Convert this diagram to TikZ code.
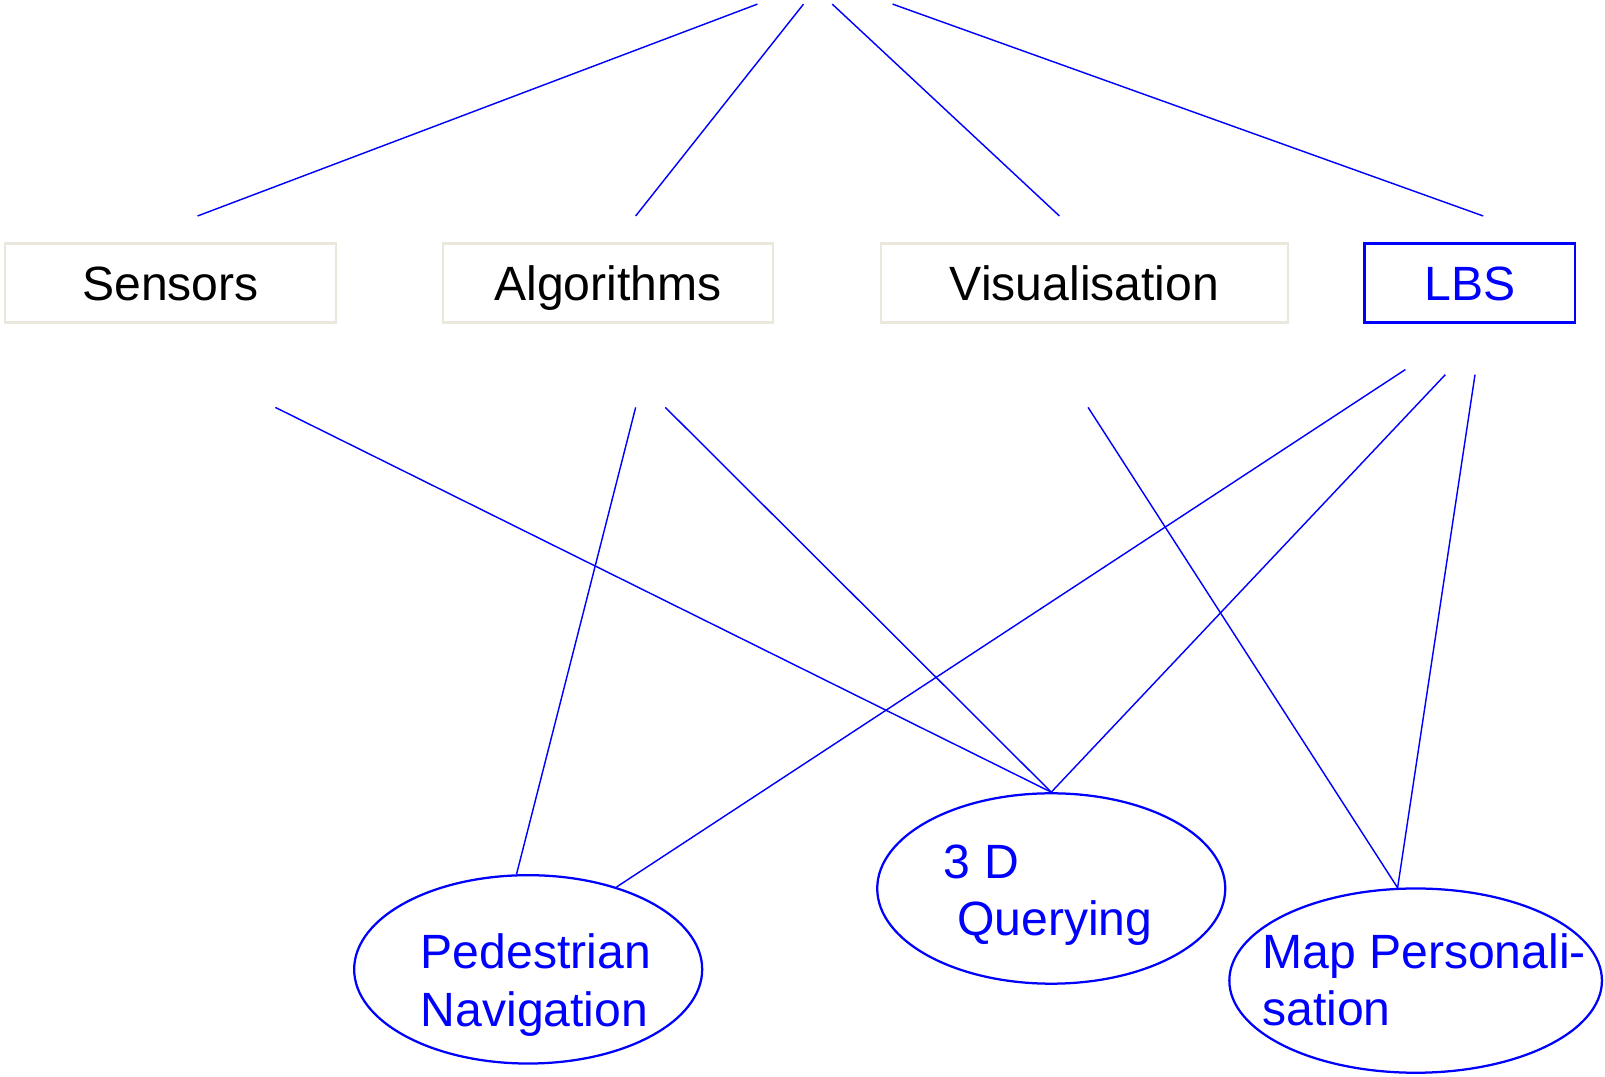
\documentclass[tikz,border=0pt]{standalone}
\usepackage{fontspec}
\setmainfont{Liberation Sans}
\usetikzlibrary{shapes.geometric}
\definecolor{boxgray}{RGB}{234,232,220}
\definecolor{linkblue}{RGB}{0,0,255}
\begin{document}
\begin{tikzpicture}[x=1pt,y=-1pt,
  every node/.style={font=\fontsize{47}{57}\selectfont},
  topicbox/.style={draw=boxgray, line width=2.2pt, rectangle, minimum width=323pt,
    minimum height=77pt, inner sep=0pt, text height=34pt, text depth=0pt},
  lbsbox/.style={topicbox, draw=linkblue, text=linkblue, minimum width=206pt},
  topic/.style={draw=linkblue, line width=2.2pt, ellipse, inner sep=0pt},
  caption/.style={text=linkblue, anchor=base west, inner sep=0pt},
  link/.style={draw=linkblue, line width=1.4pt}]
\useasboundingbox (0,0) rectangle (1568,1052);

% research areas
\node[topicbox] (sens) at (166.5,276.5) {Sensors};
\node[topicbox] (algo) at (594,276.5) {Algorithms};
\node[topicbox, minimum width=397pt] (visu) at (1059.5,276.5) {Visualisation};
\node[lbsbox] (lbs) at (1436,276.5) {LBS};

% applications
\node[topic, minimum width=340pt, minimum height=184pt] (ped) at (516,947) {};
\node[topic, minimum width=340pt, minimum height=186pt] (qry) at (1027,868) {};
\node[topic, minimum width=364pt, minimum height=180pt] (map) at (1383,958) {};

\node[caption] (ped1) at (411,946) {Pedestrian};
\node[caption] (ped2) at (411,1003) {Navigation};
\node[caption] (qry1) at (922,858) {3 D};
\node[caption] (qry2) at (935,914) {Querying};
\node[caption] (map1) at (1233,946) {Map Personali-};
\node[caption] (map2) at (1233,1002) {sation};

% fan from the top
\coordinate (t1) at (740,4);
\coordinate (t2) at (785,4);
\coordinate (t3) at (813,4);
\coordinate (t4) at (872,4);
\coordinate (h1) at (193,211);
\coordinate (h2) at (621,211);
\coordinate (h3) at (1035,211);
\coordinate (h4) at (1449,211);
\draw[link] (t1) -- (h1);
\draw[link] (t2) -- (h2);
\draw[link] (t3) -- (h3);
\draw[link] (t4) -- (h4);

% links from areas to applications
\coordinate (s1) at (269,398);
\coordinate (g1) at (621,398);
\coordinate (g2) at (650,398);
\coordinate (v1) at (1063,398);
\coordinate (l1) at (1373,361);
\coordinate (l2) at (1412,366);
\coordinate (l3) at (1441,366);
\draw[link] (s1) -- (qry.north);
\draw[link] (g1) -- (ped.97);
\draw[link] (g2) -- (qry.north);
\draw[link] (v1) -- (map.101);
\draw[link] (l1) -- (ped.43);
\draw[link] (l2) -- (qry.north);
\draw[link] (l3) -- (map.101);
\end{tikzpicture}
\end{document}
